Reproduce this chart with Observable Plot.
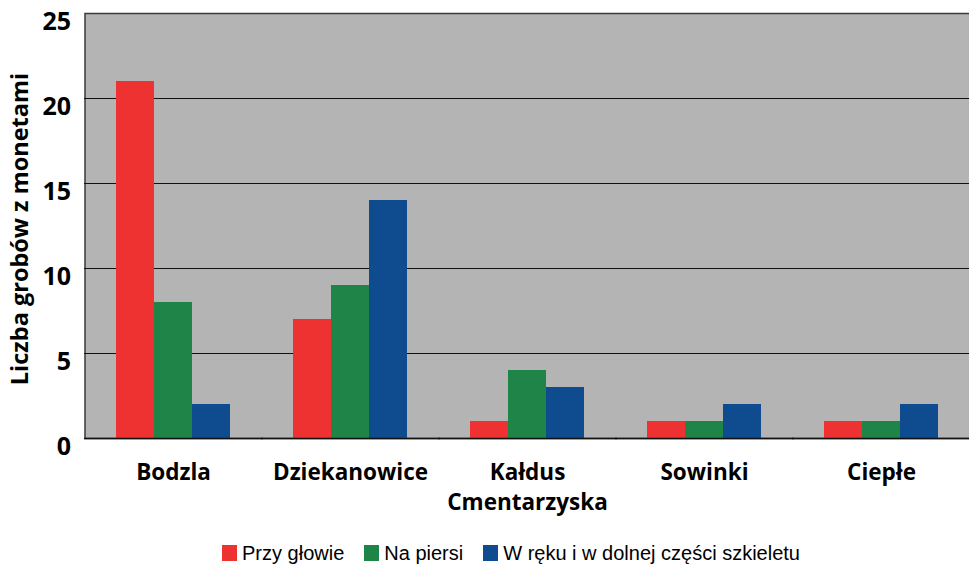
<!DOCTYPE html>
<html>
<head>
<meta charset="utf-8">
<script src="https://cdn.jsdelivr.net/npm/d3@7"></script>
<script src="https://cdn.jsdelivr.net/npm/@observablehq/plot@0.6"></script>
<style>
  html, body { margin: 0; padding: 0; background: #fff; }
  #legend { display: flex; justify-content: center; align-items: center; padding-left: 53px; height: 45px; box-sizing: border-box; padding-top: 21px;
    font-family: "Liberation Sans", Arial, sans-serif; font-size: 20px; color: #000; }
  #legend .item { display: flex; align-items: center; margin: 0 10px; }
  #legend .sw { width: 15px; height: 16px; margin-right: 5px; }
</style>
</head>
<body>
<div id="chart"></div>
<div id="legend"></div>
<script>
const sites = ["Bodzla", "Dziekanowice", "Kałdus\nCmentarzyska", "Sowinki", "Ciepłe"];
const series = ["Przy głowie", "Na piersi", "W ręku i w dolnej części szkieletu"];
const colors = ["#ee3231", "#1f8447", "#0f4c8f"];
const przyGlowie = [21, 7, 1, 1, 1];
const naPiersi = [8, 9, 4, 1, 1];
const wReku = [2, 14, 3, 2, 2];
const yTicks = [0, 5, 10, 15, 20, 25];
const gridTicks = [5, 10, 15, 20];

const values = [przyGlowie, naPiersi, wReku];
const data = [];
sites.forEach((s, i) => series.forEach((k, j) => data.push({site: s, series: k, value: values[j][i]})));

const font = "'Open Sans', 'DejaVu Sans', sans-serif";

const plot = Plot.plot({
  width: 969,
  height: 520,
  marginTop: 13,
  marginBottom: 82,
  marginLeft: 84,
  marginRight: 0,
  style: {fontFamily: font, color: "#000", background: "#fff"},
  fx: {domain: sites, paddingInner: 0.345, paddingOuter: 0.1725, label: null},
  x: {domain: series, padding: 0, axis: null},
  y: {domain: [0, 25], label: null},
  color: {domain: series, range: colors},
  marks: [
    Plot.frame({facet: "super", insetLeft: -30.5, insetRight: -31, fill: "#b3b4b3", stroke: "#3a3a3a", strokeWidth: 1.5}),
    Plot.ruleY(gridTicks, {insetLeft: -31, insetRight: -32, stroke: "#111", strokeWidth: 1.2}),
    Plot.barY(data, {fx: "site", x: "series", y: "value", fill: "series"}),
    Plot.ruleY([0], {insetLeft: -31, insetRight: -32, stroke: "#111", strokeWidth: 1.5}),
    Plot.axisY(yTicks, {tickSize: 0, tickPadding: 14, dx: -30.5, dy: 8, fontSize: 25, fontWeight: "bold", label: null}),
    Plot.axisFx({anchor: "bottom", tickSize: 0, tickPadding: 20, fontSize: 22.5, fontWeight: "bold", lineHeight: 1.35, label: null}),
    Plot.text(["Liczba grobów z monetami"], {facet: "super", frameAnchor: "left", textAnchor: "middle", rotate: -90, dx: -95, dy: 3, fontSize: 23.5, fontWeight: "bold", text: d => d})
  ]
});
document.getElementById("chart").appendChild(plot);

const legend = document.getElementById("legend");
series.forEach((s, i) => {
  const item = document.createElement("div");
  item.className = "item";
  const sw = document.createElement("span");
  sw.className = "sw";
  sw.style.background = colors[i];
  const t = document.createElement("span");
  t.textContent = s;
  item.appendChild(sw);
  item.appendChild(t);
  legend.appendChild(item);
});
</script>
</body>
</html>
